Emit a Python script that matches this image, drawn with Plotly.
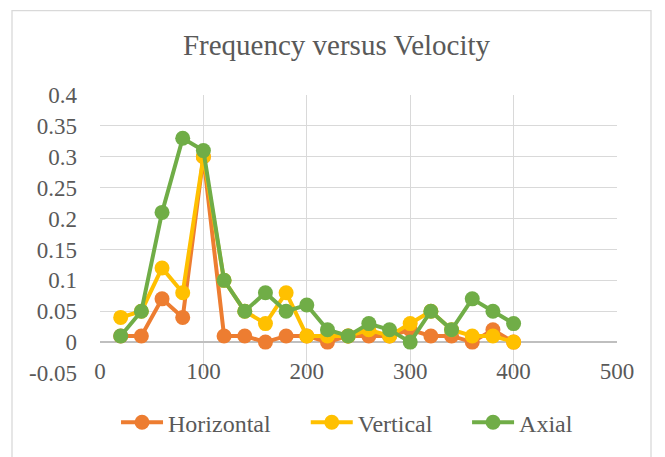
import plotly.graph_objects as go

velocity = [20, 40, 60, 80, 100, 120, 140, 160, 180, 200, 220, 240, 260, 280, 300, 320, 340, 360, 380, 400]
horizontal = [0.01, 0.01, 0.07, 0.04, 0.30, 0.01, 0.01, 0.00, 0.01, 0.01, 0.00, 0.01, 0.01, 0.01, 0.02, 0.01, 0.01, 0.00, 0.02, 0.00]
vertical = [0.04, 0.05, 0.12, 0.08, 0.30, 0.10, 0.05, 0.03, 0.08, 0.01, 0.01, 0.01, 0.02, 0.01, 0.03, 0.05, 0.02, 0.01, 0.01, 0.00]
axial = [0.01, 0.05, 0.21, 0.33, 0.31, 0.10, 0.05, 0.08, 0.05, 0.06, 0.02, 0.01, 0.03, 0.02, 0.00, 0.05, 0.02, 0.07, 0.05, 0.03]

y_tickvals = [-0.05, 0, 0.05, 0.1, 0.15, 0.2, 0.25, 0.3, 0.35, 0.4]
y_ticktext = ["-0.05", "0", "0.05", "0.1", "0.15", "0.2", "0.25", "0.3", "0.35", "0.4"]
x_tickvals = [0, 100, 200, 300, 400, 500]
x_ticktext = ["0", "100", "200", "300", "400", "500"]

series = [
    ("Horizontal", horizontal, "#ED7D31", "legend", 0.031),
    ("Vertical", vertical, "#FFC000", "legend2", 0.398),
    ("Axial", axial, "#70AD47", "legend3", 0.710),
]

FONT = "Liberation Serif"
GRAY = "#595959"
GRID = "#D9D9D9"

# page body has an 8px margin; figure is sized/offset to compensate
W, H = 657, 449
L, R, T, B = 92, 48, 87, 82
PW, PH = W - L - R, H - T - B

fig = go.Figure()
for name, vals, color, leg, _ in series:
    fig.add_trace(go.Scatter(
        x=velocity, y=vals, name=name, mode="lines+markers",
        line=dict(color=color, width=4),
        marker=dict(color=color, size=15),
        legend=leg,
    ))

legend_style = dict(orientation="h", xanchor="left", y=-0.1786, yanchor="middle",
                    font=dict(family=FONT, size=24, color=GRAY),
                    itemwidth=42, bgcolor="rgba(0,0,0,0)")
legends = {}
for name, vals, color, leg, lx in series:
    legends[leg] = dict(legend_style, x=lx)

fig.update_layout(
    width=W, height=H,
    margin=dict(l=L, r=R, t=T, b=B),
    paper_bgcolor="white", plot_bgcolor="white",
    font=dict(family=FONT, color=GRAY, size=23),
    title=dict(text="Frequency versus Velocity", x=0.5, xref="container",
               y=1 - 37 / H, yref="container", yanchor="middle", xanchor="center",
               font=dict(family=FONT, size=29, color=GRAY)),
    showlegend=True,
    **legends,
    xaxis=dict(range=[0, 500], tickvals=x_tickvals, ticktext=x_ticktext,
               showgrid=True, gridcolor=GRID, gridwidth=1.3,
               zeroline=False, showline=False, ticks="",
               ticklabelstandoff=-18,
               tickfont=dict(family=FONT, size=23, color=GRAY)),
    yaxis=dict(range=[-0.05, 0.4], tickvals=y_tickvals, ticktext=y_ticktext,
               showgrid=True, gridcolor=GRID, gridwidth=1.3,
               zeroline=True, zerolinecolor="#BFBFBF", zerolinewidth=1.5,
               showline=False, ticks="", ticklabelstandoff=22,
               tickfont=dict(family=FONT, size=23, color=GRAY)),
    shapes=[dict(type="rect", xref="paper", yref="paper",
                 x0=(4 - L) / PW, x1=(643 - L) / PW,
                 y0=-(H + 20 - (H - B)) / PH, y1=((H - B) - 2) / PH,
                 line=dict(color=GRID, width=1.3), fillcolor="rgba(0,0,0,0)",
                 layer="below")],
)

fig.write_html("out.html")
